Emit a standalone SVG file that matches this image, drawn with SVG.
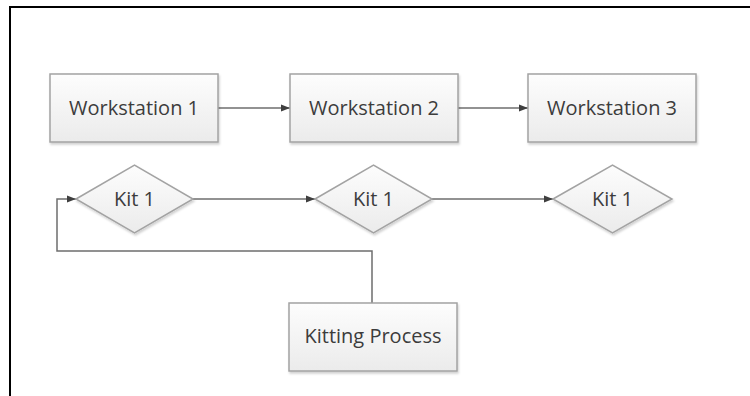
<svg xmlns="http://www.w3.org/2000/svg" width="750" height="396" viewBox="0 0 750 396">
  <defs>
    <linearGradient id="shapeFill" x1="0" y1="0" x2="0" y2="1">
      <stop offset="0" stop-color="#fdfdfd"/>
      <stop offset="1" stop-color="#ebebeb"/>
    </linearGradient>
    <filter id="shadow" x="-10%" y="-10%" width="120%" height="130%">
      <feDropShadow dx="1" dy="2" stdDeviation="1.2" flood-color="#000" flood-opacity="0.18"/>
    </filter>
    <marker id="arrow" viewBox="0 0 10 10" refX="10" refY="5" markerWidth="9" markerHeight="9" markerUnits="userSpaceOnUse" orient="auto">
      <path d="M0,1 L10,5 L0,9 Z" fill="#3f3f3f"/>
    </marker>
  </defs>
  <style>
    .shape { fill: url(#shapeFill); stroke: #a3a3a3; stroke-width: 1.5; filter: url(#shadow); }
    .label { font-family: "Open Sans", "Liberation Sans", sans-serif; font-size: 20px; fill: #3c3c3c; text-anchor: middle; }
    .conn { fill: none; stroke: #6e6e6e; stroke-width: 1.5; }
    .frame { stroke: #000; stroke-width: 2; fill: none; }
  </style>

  <rect width="750" height="396" fill="#fff"/>

  <!-- page frame (top and left edges) -->
  <path class="frame" d="M10,396 V7 H750"/>

  <g id="connectors">
    <line class="conn" x1="218" y1="108" x2="290" y2="108" marker-end="url(#arrow)"/>
    <line class="conn" x1="458" y1="108" x2="528" y2="108" marker-end="url(#arrow)"/>
    <line class="conn" x1="193" y1="199" x2="315" y2="199" marker-end="url(#arrow)"/>
    <line class="conn" x1="432" y1="199" x2="553" y2="199" marker-end="url(#arrow)"/>
    <polyline class="conn" points="372,303 372,251 57,251 57,199 76,199" marker-end="url(#arrow)"/>
  </g>

  <g id="workstation1">
    <rect class="shape" x="50" y="74" width="168" height="68"/>
    <text class="label" x="134" y="115">Workstation 1</text>
  </g>
  <g id="workstation2">
    <rect class="shape" x="290" y="74" width="168" height="68"/>
    <text class="label" x="374" y="115">Workstation 2</text>
  </g>
  <g id="workstation3">
    <rect class="shape" x="528" y="74" width="168" height="68"/>
    <text class="label" x="612" y="115">Workstation 3</text>
  </g>

  <g id="kit1a">
    <polygon class="shape" points="76,199 134.5,165 193,199 134.5,233"/>
    <text class="label" x="134.5" y="206">Kit 1</text>
  </g>
  <g id="kit1b">
    <polygon class="shape" points="315,199 373.5,165 432,199 373.5,233"/>
    <text class="label" x="373.5" y="206">Kit 1</text>
  </g>
  <g id="kit1c">
    <polygon class="shape" points="553,199 612.5,165 672,199 612.5,233"/>
    <text class="label" x="612.5" y="206">Kit 1</text>
  </g>

  <g id="kittingProcess">
    <rect class="shape" x="289" y="303" width="168" height="68"/>
    <text class="label" x="373" y="343">Kitting Process</text>
  </g>
</svg>
